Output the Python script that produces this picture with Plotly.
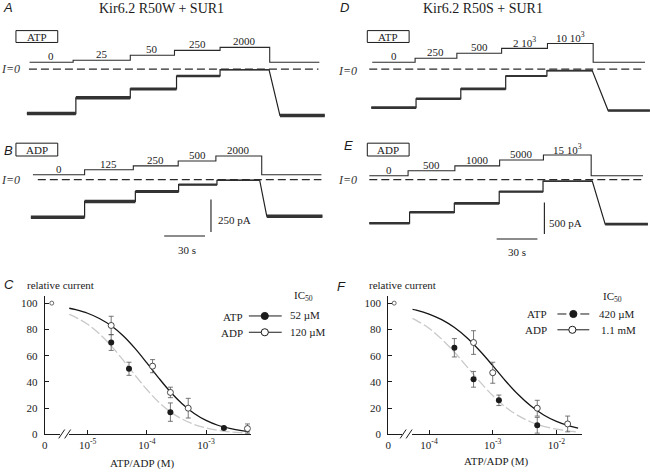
import plotly.graph_objects as go

W, H = 650, 476
SERIF = "Liberation Serif"
SANS = "Liberation Sans"
INK = "#1b1b1b"

# ===================== DATA =====================
# --- Panel A: Kir6.2 R50W + SUR1, ATP (uM) ---
a_labels = ["0", "25", "50", "250", "2000"]
a_sol_t = [2, 34, 76, 108.5, 142, 178.5, 215]          # solution changes (s)
a_sol_lv = [53, 68, 106, 144, 167]                       # application marker levels
a_cur_t = [0, 36, 76, 110, 142, 178, 186, 219]           # current step times (s)
a_cur_pA = [-341, -220, -152, -53, -4, -356]             # current (pA)

# --- Panel B: Kir6.2 R50W + SUR1, ADP (uM) ---
b_labels = ["0", "125", "250", "500", "2000"]
b_sol_t = [1.5, 39.5, 75.3, 108.3, 136, 169.7, 213.6]
b_sol_lv = [38, 76, 106, 144, 182]
b_cur_t = [0, 39.5, 76.8, 108.6, 136.8, 168.2, 173.4, 214.3]
b_cur_pA = [-288, -167, -91, -38, -4, -280]

# --- Panel D: Kir6.2 R50S + SUR1, ATP (uM) ---
d_labels = ["0", "250", "500", "2 10<sup>3</sup>", "10 10<sup>3</sup>"]
d_sol_t = [0.7, 32.2, 62.9, 95.8, 129.5, 163.1, 201.2]
d_sol_lv = [109, 172, 250, 328, 406]
d_cur_t = [0, 32.9, 65.8, 98.8, 129.1, 162.4, 174.1, 204.8]
d_cur_pA = [-609, -469, -312, -109, -23, -656]

# --- Panel E: Kir6.2 R50S + SUR1, ADP (uM) ---
e_labels = ["0", "500", "1000", "5000", "15 10<sup>3</sup>"]
e_sol_t = [0, 28.5, 62.9, 95.8, 128, 163.1, 201.2]
e_sol_lv = [62, 141, 219, 313, 391]
e_cur_t = [0, 29.6, 62.5, 95.5, 127.7, 163.9, 173.4, 204.8]
e_cur_pA = [-688, -516, -375, -188, -23, -703]

scale_pA_B = 250
scale_pA_E = 500
scale_s = 30

# --- Panel C: dose-response, R50W ---
c_zero_rel = [100]
c_atp_x = [2.5e-5, 5e-5, 2.5e-4, 2e-3]
c_atp_y = [70, 50, 17, 5]
c_atp_err = [6, 5, 7, 1]
c_adp_x = [2.5e-5, 1.25e-4, 2.5e-4, 5e-4, 5e-3]
c_adp_y = [83, 52, 32, 20, 4.5]
c_adp_err = [7, 5, 4, 7.5, 3.5]
c_fit_x = [4.9e-6, 6.3e-6, 1e-5, 1.58e-5, 2.51e-5, 3.98e-5, 6.31e-5, 1e-4, 1.58e-4,
           2.51e-4, 3.98e-4, 6.31e-4, 1e-3, 1.58e-3, 2.51e-3, 3.98e-3, 5.37e-3]
c_fit_adp = [96.1, 95.0, 92.3, 88.3, 82.7, 75.1, 65.5, 54.5, 43.1, 32.3, 23.2, 16.0,
             10.7, 7.0, 4.6, 2.9, 2.2]
c_fit_atp = [91.4, 89.2, 83.9, 76.6, 67.4, 56.6, 45.2, 34.2, 24.7, 17.1, 11.6, 7.6,
             4.9, 3.2, 2.0, 1.3, 1.0]
c_ic50 = ["52 \u00b5M", "120 \u00b5M"]

# --- Panel F: dose-response, R50S ---
f_zero_rel = [100]
f_atp_x = [2.5e-4, 5e-4, 1.25e-3, 5e-3]
f_atp_y = [66, 42, 26, 7]
f_atp_err = [7, 6, 4, 6]
f_adp_x = [5e-4, 1e-3, 5e-3, 1.5e-2]
f_adp_y = [70, 47, 20, 8]
f_adp_err = [9, 8, 6, 6]
f_fit_x = [5.5e-5, 6.31e-5, 1e-4, 1.58e-4, 2.51e-4, 3.98e-4, 6.31e-4, 1e-3, 1.58e-3,
           2.51e-3, 3.98e-3, 6.31e-3, 1e-2, 1.58e-2, 2.19e-2]
f_fit_adp = [95.2, 94.6, 91.7, 87.4, 81.4, 73.4, 63.5, 52.4, 40.9, 30.4, 21.6, 14.8,
             9.9, 6.5, 4.8]
f_fit_atp = [88.4, 86.9, 80.8, 72.6, 62.6, 51.3, 40.0, 29.6, 20.9, 14.3, 9.5, 6.2,
             4.0, 2.6, 1.9]
f_ic50 = ["420 \u00b5M", "1.1 mM"]

rel_ticks = [0, 20, 40, 60, 80, 100]

# ===================== FIGURE =====================
fig = go.Figure()
layout = {}
annots = []
shapes = []


def fx(p):
    return p / W


def fy(p):
    return 1 - p / H


def ptext(text, x, y, size=11, family=SERIF, xanchor="center", color=INK):
    annots.append(dict(text=text, x=fx(x), y=fy(y), xref="paper", yref="paper",
                       xanchor=xanchor, yanchor="middle", showarrow=False,
                       borderpad=0,
                       font=dict(family=family, size=size, color=color)))


def pline(x0, y0, x1, y1, width=1, color=INK, dash=None):
    ln = dict(color=color, width=width)
    if dash:
        ln["dash"] = dash
    shapes.append(dict(type="line", xref="paper", yref="paper", x0=fx(x0), y0=fy(y0),
                       x1=fx(x1), y1=fy(y1), line=ln))


SPX = 41 / 30.0  # px per second


def rec_panel(n, box, t0px, zeropx, spy, sol_t, sol_lv, cur_t, cur_pA, labels, widths,
              dash_t):
    l, t, r, b = box
    xa, ya = f"x{n}", f"y{n}"
    layout[f"xaxis{n}"] = dict(domain=[l / W, r / W],
                               range=[(l - t0px) / SPX, (r - t0px) / SPX],
                               visible=False, fixedrange=True)
    layout[f"yaxis{n}"] = dict(domain=[1 - b / H, 1 - t / H],
                               range=[(zeropx - b) / spy, (zeropx - t) / spy],
                               visible=False, anchor=xa, fixedrange=True)
    # solution application line
    fig.add_trace(go.Scatter(x=sol_t, y=sol_lv + [sol_lv[0], sol_lv[0]], mode="lines",
                             line=dict(color="#2a2a2a", width=1.1, shape="hv"),
                             xaxis=xa, yaxis=ya, hoverinfo="skip"))
    for i, lab in enumerate(labels):
        annots.append(dict(text=lab, x=(sol_t[i] + sol_t[i + 1]) / 2, y=sol_lv[i],
                           xref=xa, yref=ya, yshift=6, showarrow=False, borderpad=0,
                           font=dict(family=SERIF, size=11, color=INK)))
    # I = 0 dashed line
    shapes.append(dict(type="line", xref=xa, yref=ya, x0=dash_t[0], x1=dash_t[1], y0=0,
                       y1=0, line=dict(color="#2a2a2a", width=1.2, dash="8px,4px")))
    # current trace (thin continuous line)
    xs, ys = [cur_t[0]], [cur_pA[0]]
    for i in range(4):
        xs += [cur_t[i + 1], cur_t[i + 1]]
        ys += [cur_pA[i], cur_pA[i + 1]]
    xs += [cur_t[5], cur_t[6], cur_t[7]]
    ys += [cur_pA[4], cur_pA[5], cur_pA[5]]
    fig.add_trace(go.Scatter(x=xs, y=ys, mode="lines", line=dict(color="#222", width=1.2),
                             xaxis=xa, yaxis=ya, hoverinfo="skip"))
    # noisy plateaus drawn as thicker bands
    segs = [(cur_t[i], cur_t[i + 1], cur_pA[i]) for i in range(5)]
    segs.append((cur_t[6], cur_t[7], cur_pA[5]))
    for (s0, s1, lv), w in zip(segs, widths):
        fig.add_trace(go.Scatter(x=[s0, s1], y=[lv, lv], mode="lines",
                                 line=dict(color="#333", width=w),
                                 xaxis=xa, yaxis=ya, hoverinfo="skip"))


rec_panel(1, (0, 22, 325, 128), 24, 70, 33 / 250, a_sol_t, a_sol_lv, a_cur_t, a_cur_pA,
          a_labels, [3.5, 3.5, 3, 2.5, 1.5, 3.5], (1.5, 214.3))
rec_panel(2, (0, 138, 325, 262), 28, 182, 33 / 250, b_sol_t, b_sol_lv, b_cur_t, b_cur_pA,
          b_labels, [3.5, 3.5, 3, 2.2, 1.5, 3.5], (5.1, 213.6))
rec_panel(3, (325, 22, 650, 128), 370, 70, 32 / 500, d_sol_t, d_sol_lv, d_cur_t, d_cur_pA,
          d_labels, [2.6, 2.6, 2.6, 2.2, 1.8, 2.6], (-1.5, 201.2))
rec_panel(4, (325, 138, 650, 262), 368, 182, 32 / 500, e_sol_t, e_sol_lv, e_cur_t,
          e_cur_pA, e_labels, [2.6, 2.6, 2.6, 2.2, 1.5, 2.6], (0, 202.6))

# scale bars
for xa, ya, bx, btop, hy, hx0, amp, lab_x, lab_y, tlab_x, tlab_y in [
        ("x2", "y2", 132.4, -152, -432, 98, scale_pA_B, 136.8, -310, 114.9, -538),
        ("x4", "y4", 128.7, -359, -938, 93.6, scale_pA_E, 131.7, -688, 108.3, -1141)]:
    shapes.append(dict(type="line", xref=xa, yref=ya, x0=bx, x1=bx, y0=btop,
                       y1=btop - amp, line=dict(color=INK, width=1.1)))
    shapes.append(dict(type="line", xref=xa, yref=ya, x0=hx0, x1=hx0 + scale_s, y0=hy,
                       y1=hy, line=dict(color=INK, width=1.1)))
    annots.append(dict(text=f"{amp} pA", x=lab_x, y=lab_y, xref=xa, yref=ya,
                       xanchor="left", showarrow=False, borderpad=0,
                       font=dict(family=SERIF, size=11, color=INK)))
    annots.append(dict(text=f"{scale_s} s", x=tlab_x, y=tlab_y, xref=xa, yref=ya,
                       showarrow=False, borderpad=0,
                       font=dict(family=SERIF, size=11, color=INK)))

# boxes with nucleotide names
for (x0, y0, x1, y1, txt) in [(13, 31, 55, 43, "ATP"), (13, 145, 55, 158, "ADP"),
                              (366, 31, 408, 43, "ATP"), (366, 145, 408, 158, "ADP")]:
    shapes.append(dict(type="rect", xref="paper", yref="paper", x0=fx(x0), x1=fx(x1),
                       y0=fy(y1), y1=fy(y0), line=dict(color=INK, width=1)))
    ptext(txt, (x0 + x1) / 2, (y0 + y1) / 2 + 0.5, size=11)

# I=0 labels
for (x, y) in [(18, 70), (18, 182), (357, 72), (357, 182)]:
    ptext("<i>I=0</i>", x, y, size=12, xanchor="right", color="#333")

# titles and panel letters
ptext("Kir6.2 R50W + SUR1", 159, 9, size=14)
ptext("Kir6.2 R50S + SUR1", 482, 9, size=14)
for (L, x, y) in [("A", 5, 8), ("B", 6, 152), ("C", 6, 288), ("D", 343, 8),
                  ("E", 347, 147), ("F", 340, 290)]:
    ptext(f"<i>{L}</i>", x, y, size=13, family=SANS)


# ---------------- dose-response panels ----------------
def dr_panel(xz, xl, yn, axis_px, zero_px, log_dom, log_range, tickvals, ticktext,
             zero_rel, atp_x, atp_y, atp_err, adp_x, adp_y, adp_err, fit_x, fit_adp,
             fit_atp):
    tf = dict(family=SERIF, size=11, color=INK)
    layout[f"xaxis{xz}"] = dict(domain=[axis_px / W, zero_px[1] / W],
                                range=[-(zero_px[0] - axis_px), zero_px[1] - zero_px[0]],
                                tickvals=[0], ticktext=["0"], ticks="",
                                ticklabelshift=-(zero_px[0] - axis_px),
                                showline=True, linecolor=INK, linewidth=1,
                                showgrid=False, zeroline=False, anchor=f"y{yn}",
                                tickfont=tf, fixedrange=True)
    layout[f"xaxis{xl}"] = dict(type="log", domain=[log_dom[0] / W, log_dom[1] / W],
                                range=log_range, tickvals=tickvals, ticktext=ticktext,
                                ticks="inside", ticklen=4, tickcolor=INK,
                                showline=True, linecolor=INK, linewidth=1,
                                showgrid=False, zeroline=False, anchor=f"y{yn}",
                                tickfont=tf, fixedrange=True)
    layout[f"yaxis{yn}"] = dict(domain=[1 - 440 / H, 1 - 300 / H],
                                range=[0, 140 / 1.33], tickvals=rel_ticks,
                                ticks="inside", ticklen=4, tickcolor=INK,
                                ticklabelstandoff=4,
                                showline=True, linecolor=INK, linewidth=1,
                                showgrid=False, zeroline=False, anchor=f"x{xz}",
                                tickfont=tf, fixedrange=True)
    xa, ya = f"x{xl}", f"y{yn}"
    fig.add_trace(go.Scatter(x=fit_x, y=fit_atp, mode="lines", xaxis=xa, yaxis=ya,
                             line=dict(color="#c9c9c9", width=1.3, dash="10px,3px",
                                       shape="spline"), hoverinfo="skip"))
    fig.add_trace(go.Scatter(x=fit_x, y=fit_adp, mode="lines", xaxis=xa, yaxis=ya,
                             line=dict(color="#151515", width=1.3, shape="spline"),
                             hoverinfo="skip"))
    eb = dict(type="data", thickness=0.8, width=2.5, color="#555")
    fig.add_trace(go.Scatter(x=atp_x, y=atp_y, mode="markers", xaxis=xa, yaxis=ya,
                             error_y=dict(eb, array=atp_err),
                             marker=dict(symbol="circle", size=6, color=INK)))
    fig.add_trace(go.Scatter(x=adp_x, y=adp_y, mode="markers", xaxis=xa, yaxis=ya,
                             error_y=dict(eb, array=adp_err),
                             marker=dict(symbol="circle", size=6, color="white",
                                         line=dict(color="#333", width=0.9))))
    fig.add_trace(go.Scatter(x=[0], y=zero_rel, mode="markers", xaxis=f"x{xz}",
                             yaxis=ya, cliponaxis=False,
                             marker=dict(symbol="circle", size=4, color="white",
                                         line=dict(color="#444", width=0.8))))


dr_panel(5, 6, 5, 42, (49, 57), (66, 249), [-5 - 19 / 59.5, -5 + 164 / 59.5],
         [1e-5, 1e-4, 1e-3], ["10<sup>-5</sup>", "10<sup>-4</sup>", "10<sup>-3</sup>"],
         c_zero_rel, c_atp_x, c_atp_y, c_atp_err, c_adp_x, c_adp_y, c_adp_err,
         c_fit_x, c_fit_adp, c_fit_atp)
dr_panel(7, 8, 6, 387, (393, 401), (411, 582), [-4 - 17 / 64, -4 + 154 / 64],
         [1e-4, 1e-3, 1e-2], ["10<sup>-4</sup>", "10<sup>-3</sup>", "10<sup>-2</sup>"],
         f_zero_rel, f_atp_x, f_atp_y, f_atp_err, f_adp_x, f_adp_y, f_adp_err,
         f_fit_x, f_fit_adp, f_fit_atp)

# axis break marks
for (a, b) in [(56, 62), (62, 68), (399, 405), (405, 411)]:
    pline(a, 444, b, 435, width=1)

# axis labels
ptext("relative current", 23, 289, xanchor="left")
ptext("relative current", 367, 289, xanchor="left")
ptext("ATP/ADP (M)", 140, 469)
ptext("ATP/ADP (M)", 495, 467)


# legends
def circle(cx, cy, r, filled):
    shapes.append(dict(type="circle", xref="paper", yref="paper",
                       x0=fx(cx - r), x1=fx(cx + r), y0=fy(cy + r), y1=fy(cy - r),
                       fillcolor=INK if filled else "white",
                       line=dict(color=INK, width=1)))


ptext("IC<sub>50</sub>", 302, 300)
ptext("ATP", 242, 321, xanchor="right")
ptext("ADP", 242, 337, xanchor="right")
pline(247, 320, 280, 320)
circle(263, 320, 3.6, True)
pline(247, 336.5, 280, 336.5)
circle(263, 336.5, 3.6, False)
ptext(c_ic50[0], 287, 319, xanchor="left")
ptext(c_ic50[1], 287, 336, xanchor="left")

ptext("IC<sub>50</sub>", 612, 301)
ptext("ATP", 548, 318, xanchor="right")
ptext("ADP", 548, 334, xanchor="right")
pline(557, 318, 566, 318)
pline(580, 318, 589, 318)
circle(573, 318, 3.6, True)
pline(557, 334, 589, 334)
circle(572, 334, 3.6, False)
ptext(f_ic50[0], 598, 318, xanchor="left")
ptext(f_ic50[1], 600, 334, xanchor="left")

layout.update(dict(width=W, height=H, autosize=False,
                   margin=dict(l=0, r=0, t=0, b=0, pad=0),
                   paper_bgcolor="white", plot_bgcolor="white", showlegend=False,
                   annotations=annots, shapes=shapes))
fig.update_layout(**layout)
fig.write_html("out.html", config={"displayModeBar": False},
               post_script="document.body.style.margin='0';document.body.style.padding='0';")
